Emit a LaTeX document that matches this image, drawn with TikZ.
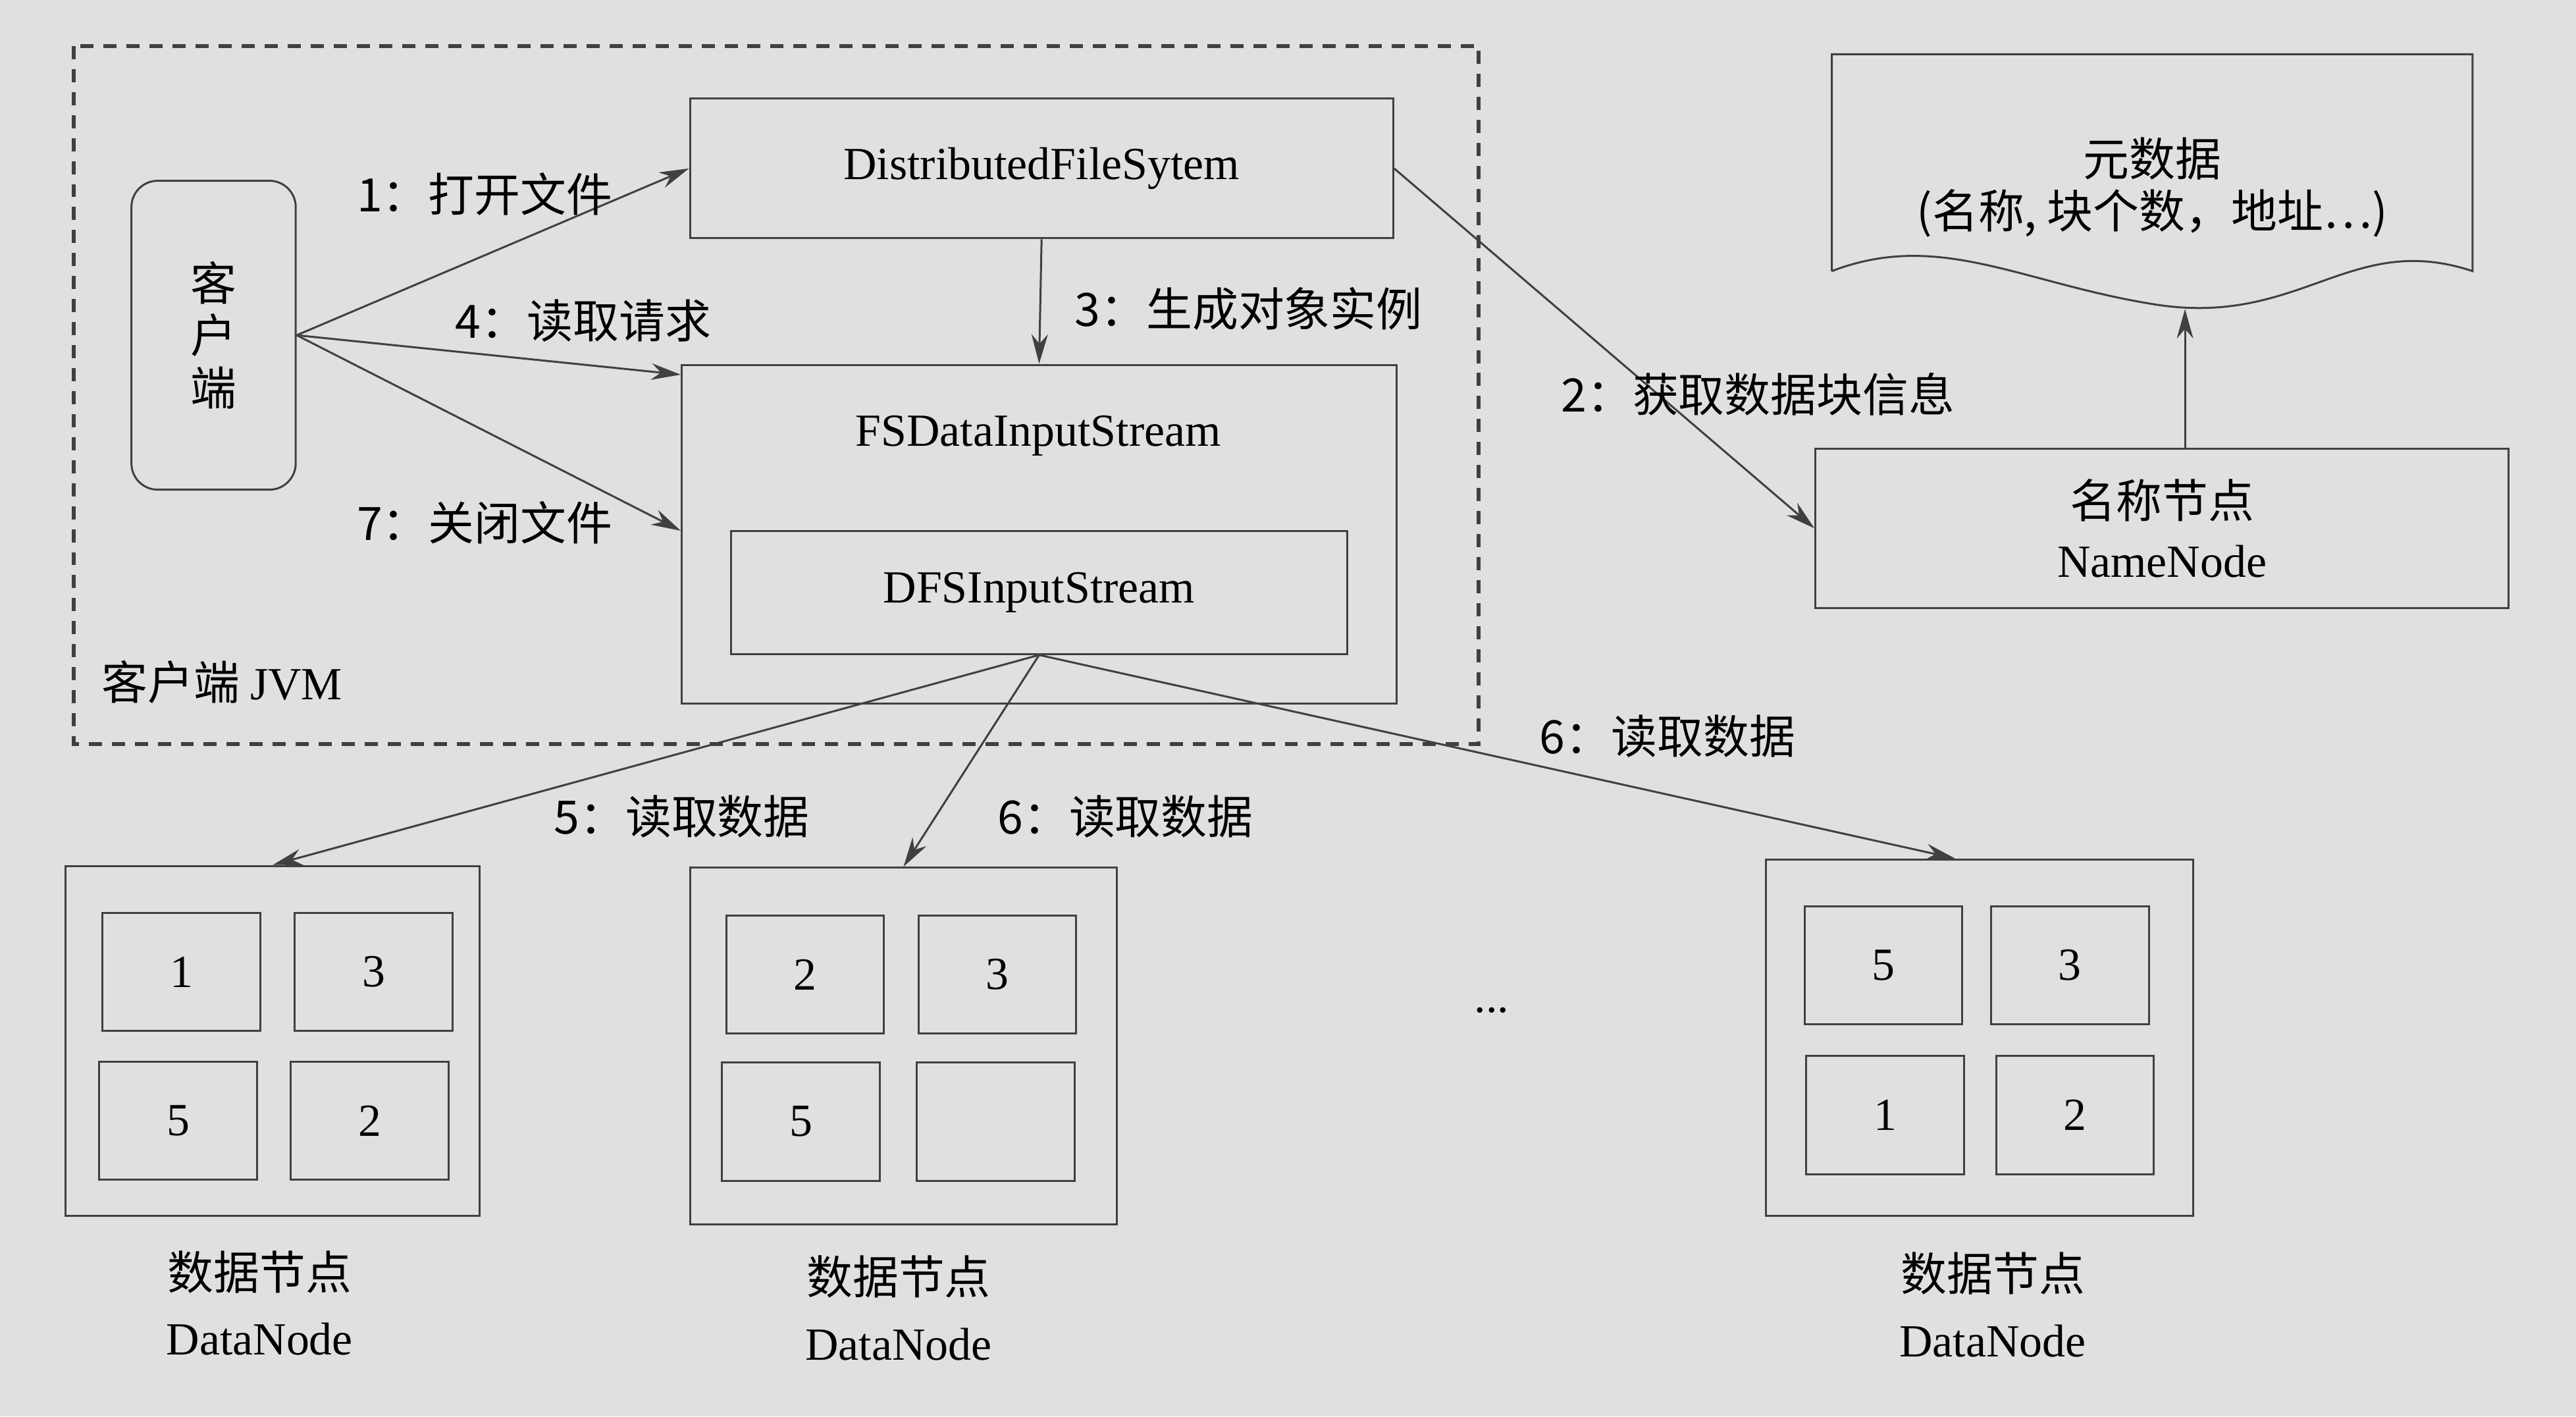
\documentclass[tikz,border=0pt]{standalone}
\usepackage{fontspec}
\setmainfont{Liberation Serif}
\newfontfamily\cjk{Noto Sans CJK SC}
\usetikzlibrary{arrows.meta}
\tikzset{every picture/.style={line width=0.6pt}}
\tikzset{
	box/.style={draw=black!75,rectangle,inner sep=0pt},
	cell/.style={box,minimum width=48pt,minimum height=36pt,font=\fontsize{14}{16}\selectfont},
	lbl/.style={inner sep=0.75pt,font=\cjk\fontsize{14}{16}\selectfont},
	arr/.style={draw=black!75,-{Stealth[length=9pt,width=5pt]}}
}

\begin{document}
\begin{tikzpicture}[x=0.5pt,y=0.5pt,yscale=-1]
	\fill[black!12] (0,0) rectangle (1568,862);
	\useasboundingbox (0,0) rectangle (1568,862);
	
	%Client JVM frame
	\draw [black!75,line width=1.2pt,dash pattern={on 4pt off 3pt}] (45,28) rectangle (900,453);
	\node (jvm) [lbl,anchor=west] at (60,415) {客户端 \rmfamily JVM};
	
	%Client
	\node (client) [box,rounded corners=8pt,minimum width=50pt,minimum height=94pt,align=center,lbl] at (130,204) {客\\户\\端};
	
	%Shapes
	\node (dfs) [box,minimum width=214pt,minimum height=42.5pt,font=\fontsize{14}{16}\selectfont] at (634,102.5) {DistributedFileSytem};
	\node (fsin) [box,minimum width=217.5pt,minimum height=103pt] at (632.5,325) {};
	\node (fsinlbl) [font=\fontsize{14}{16}\selectfont] at (632,265) {FSDataInputStream};
	\node (dfsin) [box,minimum width=187.5pt,minimum height=37.5pt,font=\fontsize{14}{16}\selectfont] at (632.5,360.5) {DFSInputStream};
	\node (nn) [box,minimum width=211pt,minimum height=48.5pt,align=center,font=\fontsize{14}{18}\selectfont] at (1316,321.5) {{\cjk 名称节点}\\NameNode};
	
	%Metadata document
	\draw [black!75] (1115,165) -- (1115,33) -- (1505,33) -- (1505,165) .. controls (1430,140) and (1400,200) .. (1310,185) .. controls (1230,172) and (1180,140) .. (1115,165);
	\node (meta) [lbl,align=center] at (1310,114) {元数据\\(名称, 块个数，地址…)};
	\coordinate (metab) at (1330,188);
	
	%Data nodes
	\node (dn1) [box,minimum width=126pt,minimum height=106.5pt] at (166,633.5) {};
	\node (c11) [cell] at (110.5,591.5) {1};
	\node (c12) [cell] at (227.5,591.5) {3};
	\node (c13) [cell] at (108.5,682) {5};
	\node (c14) [cell] at (225,682) {2};
	\node (dn1lbl) [align=center,font=\fontsize{14}{20}\selectfont] at (158,793) {{\cjk 数据节点}\\DataNode};
	
	\node (dn2) [box,minimum width=130pt,minimum height=108.5pt] at (550,636.5) {};
	\node (c21) [cell] at (490,593) {2};
	\node (c22) [cell] at (607,593) {3};
	\node (c23) [cell] at (487.5,682.5) {5};
	\node (c24) [cell] at (606,682.5) {};
	\node (dn2lbl) [align=center,font=\fontsize{14}{20}\selectfont] at (547,796) {{\cjk 数据节点}\\DataNode};
	
	\node (dn3) [box,minimum width=130pt,minimum height=108.5pt] at (1205,631.5) {};
	\node (c31) [cell] at (1146.5,587.5) {5};
	\node (c32) [cell] at (1260,587.5) {3};
	\node (c33) [cell] at (1147.5,678.5) {1};
	\node (c34) [cell] at (1263,678.5) {2};
	\node (dn3lbl) [align=center,font=\fontsize{14}{20}\selectfont] at (1213,794) {{\cjk 数据节点}\\DataNode};
	
	\node (dots) [font=\fontsize{14}{16}\selectfont] at (908,615) {...};
	
	%Connectors
	\draw [arr] (client.east) -- (dfs.west);
	\draw [arr] (client.east) -- (fsin.west |- 0,228);
	\draw [arr] (client.east) -- (fsin.west |- 0,323);
	\draw [arr] (dfs.south) -- (fsin.north);
	\draw [arr] (dfs.east) -- (nn.west);
	\draw [arr] (nn.north -| metab) -- (metab);
	\draw [arr] (dfsin.south) -- (dn1.north);
	\draw [arr] (dfsin.south) -- (dn2.north);
	\draw [arr] (dfsin.south) -- (dn3.north -| 1190,0);
	
	%Labels
	\node (l1) [lbl] at (295,118) {1：打开文件};
	\node (l4) [lbl] at (355,195) {4：读取请求};
	\node (l7) [lbl] at (295,318) {7：关闭文件};
	\node (l3) [lbl] at (760,188) {3：生成对象实例};
	\node (l2) [lbl] at (1070,240) {2：获取数据块信息};
	\node (l5) [lbl] at (415,497) {5：读取数据};
	\node (l6a) [lbl] at (685,497) {6：读取数据};
	\node (l6b) [lbl] at (1015,448) {6：读取数据};
\end{tikzpicture}
\end{document}
